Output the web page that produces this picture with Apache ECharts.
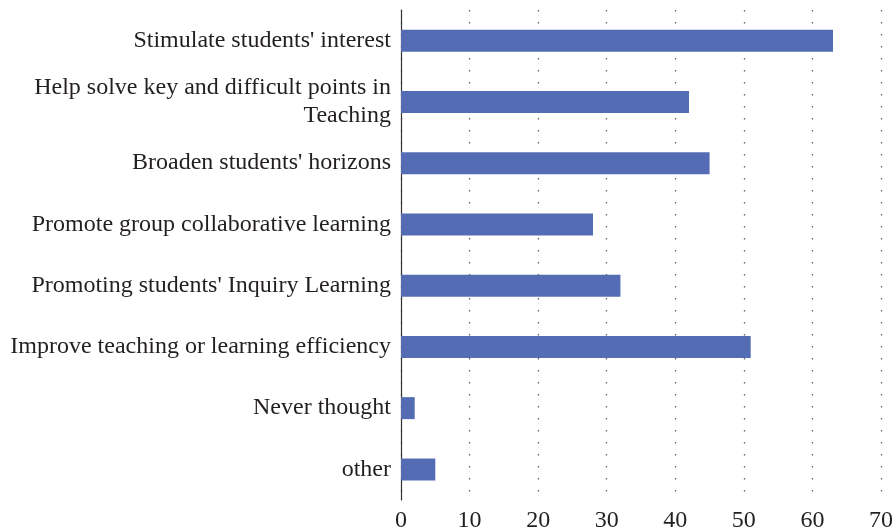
<!DOCTYPE html>
<html>
<head>
<meta charset="utf-8">
<script src="https://cdn.jsdelivr.net/npm/echarts@6/dist/echarts.min.js"></script>
<style>
  html, body { margin: 0; padding: 0; background: #fff; }
  #chart { width: 894px; height: 531px; }
</style>
</head>
<body>
<div id="chart"></div>
<script>
// categories, top to bottom as shown
const categories = [
  'Stimulate students\' interest',
  'Help solve key and difficult points in\nTeaching',
  'Broaden students\' horizons',
  'Promote group collaborative learning',
  'Promoting students\' Inquiry Learning',
  'Improve teaching or learning efficiency',
  'Never thought',
  'other'
]
const values = [63, 42, 45, 28, 32, 51, 2, 5]
const xTicks = [0, 10, 20, 30, 40, 50, 60, 70]

const textColor = '#231f20'
const fontFamily = '"Liberation Serif", "DejaVu Serif", serif'

const chart = echarts.init(document.getElementById('chart'), null, { renderer: 'canvas' })
chart.setOption({
  animation: false,
  grid: {
    left: 401,
    right: 13,
    top: 10,
    bottom: 31,
    containLabel: false,
    outerBoundsMode: 'none'
  },
  xAxis: {
    type: 'value',
    min: xTicks[0],
    max: xTicks[xTicks.length - 1],
    interval: 10,
    axisLine: { show: false },
    axisTick: { show: false },
    axisLabel: {
      color: textColor,
      fontFamily: fontFamily,
      fontSize: 24,
      margin: 9
    },
    splitLine: {
      show: true,
      lineStyle: { color: '#666', width: 1.3, type: [1.5, 10.5] }
    }
  },
  yAxis: {
    type: 'category',
    inverse: true,
    data: categories,
    axisLine: { show: true, lineStyle: { color: '#333', width: 1.2 } },
    axisTick: { show: false },
    axisLabel: {
      color: textColor,
      fontFamily: fontFamily,
      fontSize: 24,
      lineHeight: 28,
      align: 'right',
      margin: 10
    },
    splitLine: { show: false }
  },
  series: [{
    type: 'bar',
    data: values,
    barWidth: 22,
    itemStyle: { color: '#546cb4' },
    z: 3
  }]
})
</script>
</body>
</html>
